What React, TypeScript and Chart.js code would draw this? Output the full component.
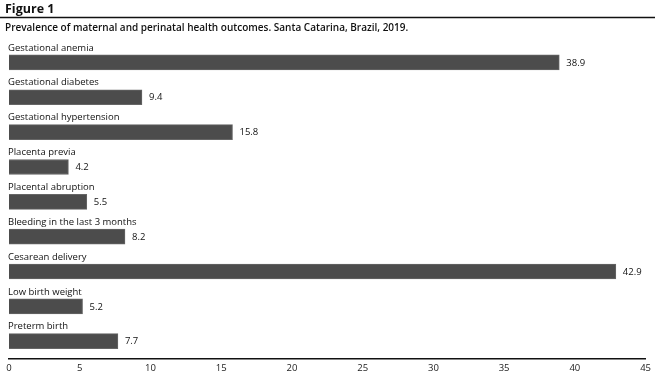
import React, { useEffect, useRef } from "react";
import { Chart, registerables } from "chart.js";

Chart.register(...registerables);

const figureLabel = "Figure 1";
const subtitle = "Prevalence of maternal and perinatal health outcomes. Santa Catarina, Brazil, 2019.";
const categories = [
  "Gestational anemia",
  "Gestational diabetes",
  "Gestational hypertension",
  "Placenta previa",
  "Placental abruption",
  "Bleeding in the last 3 months",
  "Cesarean delivery",
  "Low birth weight",
  "Preterm birth",
];
const values = [38.9, 9.4, 15.8, 4.2, 5.5, 8.2, 42.9, 5.2, 7.7];
const valueLabels = ["38.9", "9.4", "15.8", "4.2", "5.5", "8.2", "42.9", "5.2", "7.7"];

const FONT = "'Open Sans', 'DejaVu Sans', sans-serif";

const textPlugin = {
  id: "textPlugin",
  afterDraw(chart: any) {
    const ctx = chart.ctx;
    const meta = chart.getDatasetMeta(0);
    const area = chart.chartArea;
    ctx.save();
    // header
    ctx.fillStyle = "#111";
    ctx.textBaseline = "middle";
    ctx.textAlign = "left";
    ctx.font = `bold 12.5px ${FONT}`;
    ctx.fillText(figureLabel, 5, 9);
    ctx.strokeStyle = "#111";
    ctx.lineWidth = 1.5;
    ctx.beginPath();
    ctx.moveTo(0, 17.5);
    ctx.lineTo(chart.width, 17.5);
    ctx.stroke();
    ctx.font = `600 10px ${FONT}`;
    ctx.fillText(subtitle, 5, 28);
    // category and value labels
    ctx.font = `9.5px ${FONT}`;
    meta.data.forEach((bar: any, i: number) => {
      ctx.fillStyle = "#111";
      ctx.textAlign = "left";
      ctx.fillText(categories[i], area.left - 1, bar.y - 14.5);
      ctx.fillText(valueLabels[i], bar.x + 7, bar.y + 0.5);
    });
    ctx.restore();
  },
};

export default function App() {
  const ref = useRef<HTMLCanvasElement>(null);
  useEffect(() => {
    if (!ref.current) return;
    const chart = new Chart(ref.current, {
      type: "bar",
      data: {
        labels: categories,
        datasets: [
          {
            data: values,
            backgroundColor: "#4c4c4c",
            borderColor: "#666666",
            borderWidth: 1,
            barThickness: 15,
          },
        ],
      },
      options: {
        indexAxis: "y",
        animation: false,
        responsive: true,
        maintainAspectRatio: false,
        layout: { padding: { left: 9, right: 9, top: 45, bottom: 0 } },
        plugins: {
          legend: { display: false },
          tooltip: { enabled: false },
          title: { display: false },
        },
        scales: {
          y: { display: false },
          x: {
            min: 0,
            max: 45,
            ticks: {
              stepSize: 5,
              color: "#222",
              font: { family: FONT, size: 9.5 },
              padding: 4,
            },
            grid: { display: false, drawTicks: false },
            border: { display: true, color: "#111", width: 1.5 },
          },
        },
      },
      plugins: [textPlugin],
    });
    return () => chart.destroy();
  }, []);
  return (
    <div style={{ position: "fixed", left: 0, top: 0, width: 655, height: 378, background: "#fff" }}>
      <canvas ref={ref} />
    </div>
  );
}
